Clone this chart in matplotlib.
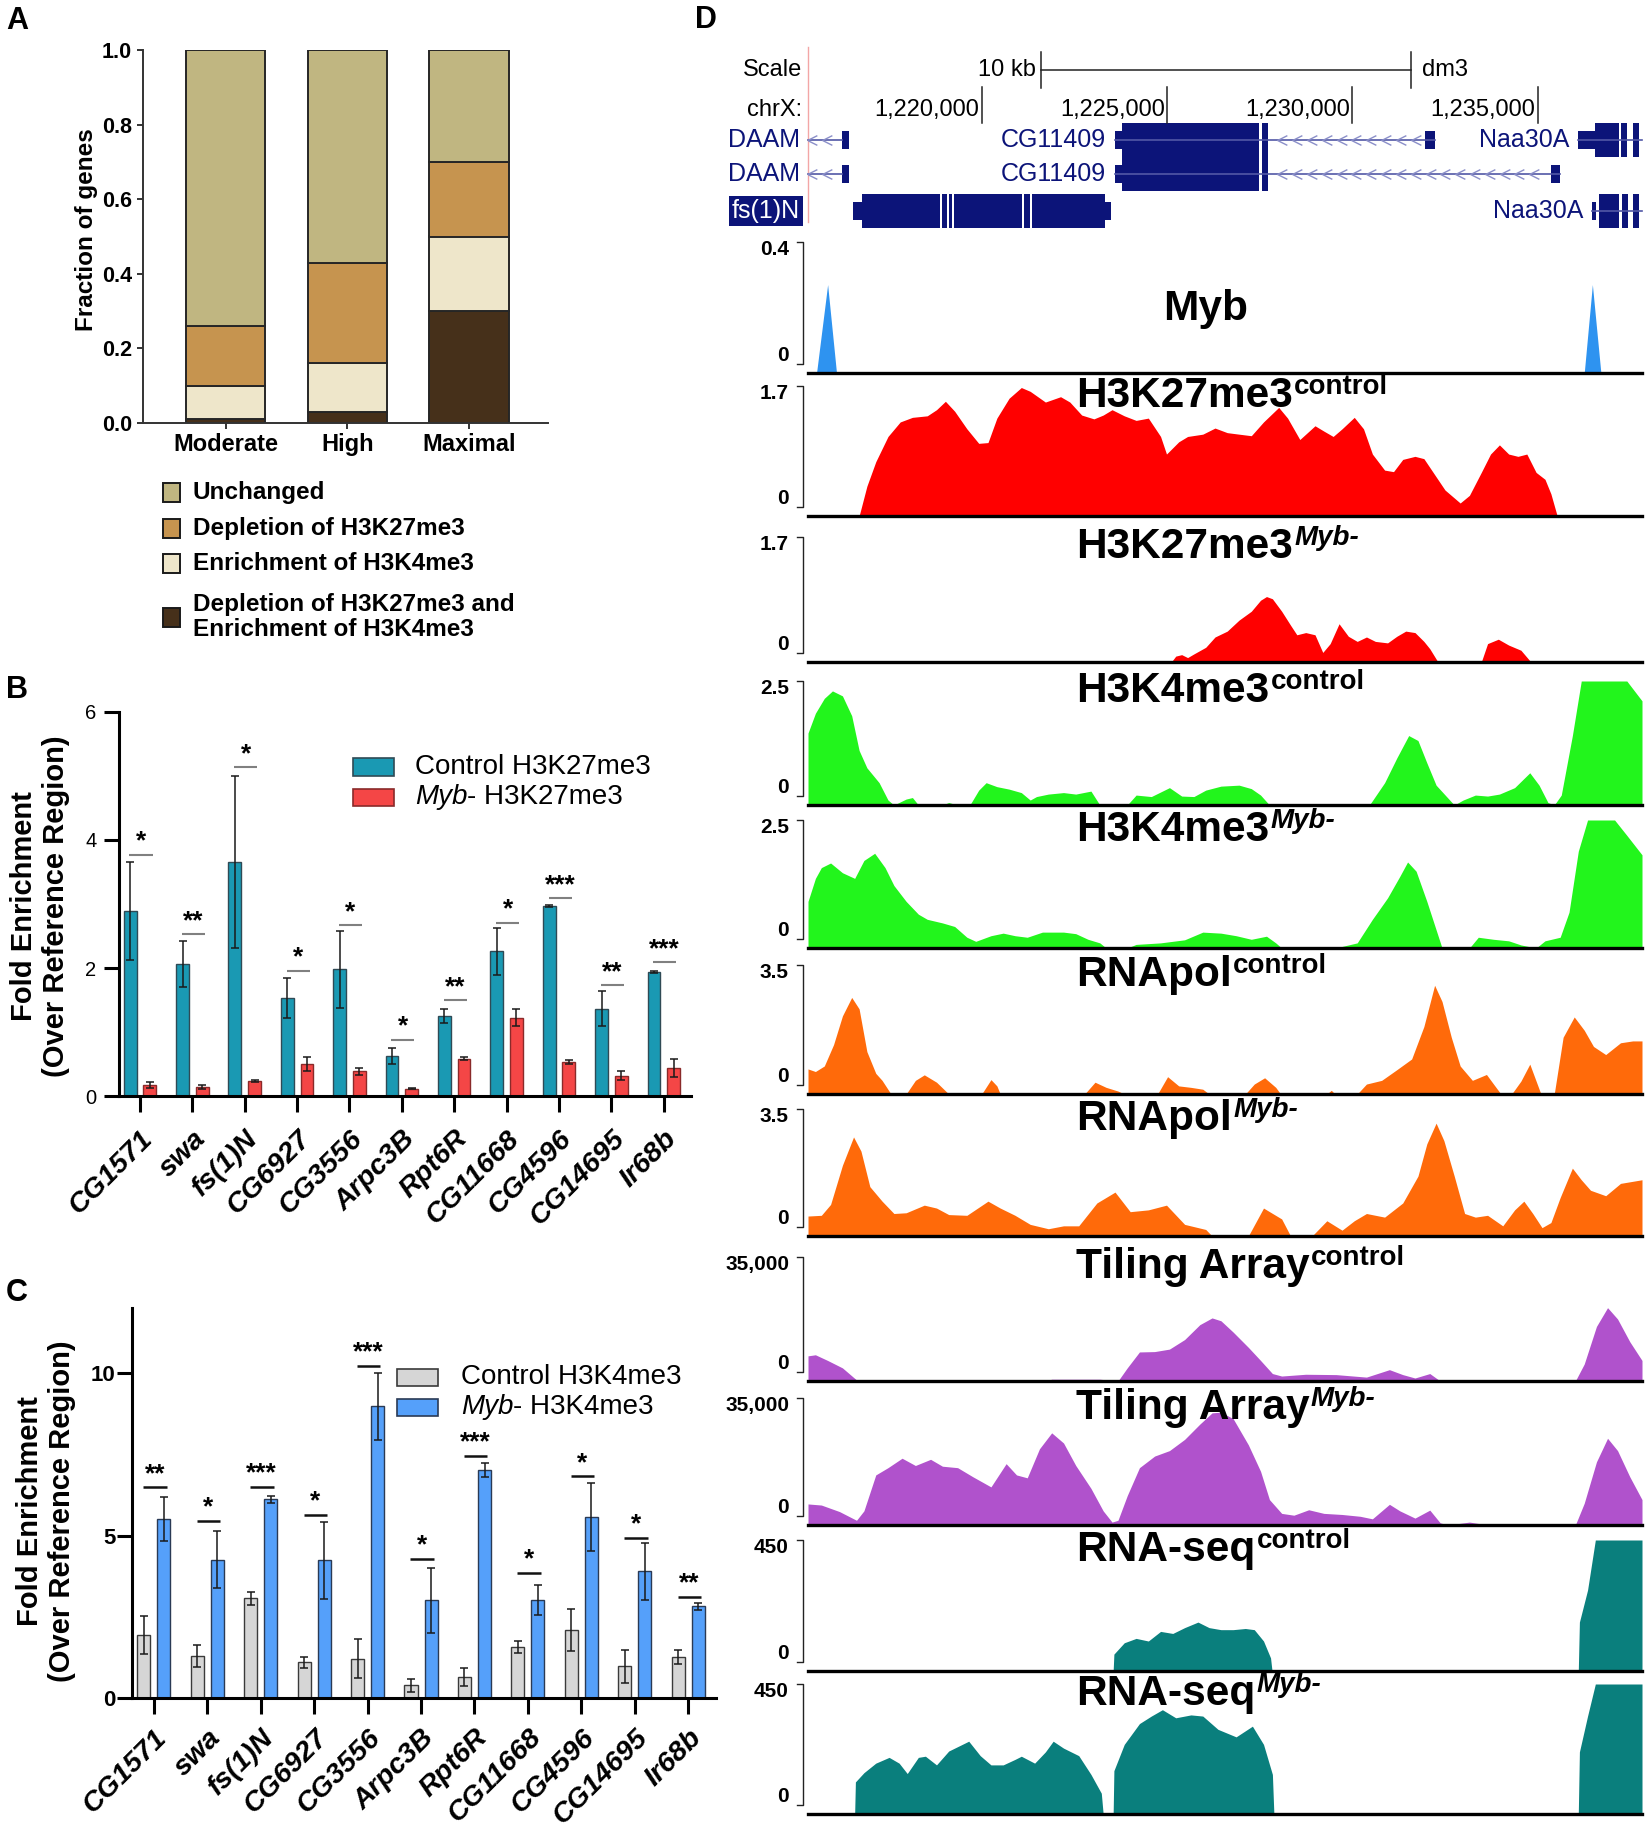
import numpy as np
import matplotlib
matplotlib.use('Agg')
import matplotlib.pyplot as plt
from matplotlib.patches import Rectangle
from matplotlib.lines import Line2D
from matplotlib.path import Path

# ---------------- panel A ----------------
groups_a = ['Moderate', 'High', 'Maximal']
unchanged_a = [0.74, 0.57, 0.30]
depletion_a = [0.16, 0.27, 0.20]
enrichment_a = [0.09, 0.13, 0.20]
both_a = [0.01, 0.03, 0.30]
legend_a = ['Unchanged', 'Depletion of H3K27me3', 'Enrichment of H3K4me3',
            'Depletion of H3K27me3 and\nEnrichment of H3K4me3']

# ---------------- panels B, C ----------------
genes = ['CG1571', 'swa', 'fs(1)N', 'CG6927', 'CG3556', 'Arpc3B', 'Rpt6R',
         'CG11668', 'CG4596', 'CG14695', 'Ir68b']

b_ctrl = [2.89, 2.06, 3.65, 1.54, 1.98, 0.63, 1.25, 2.26, 2.97, 1.37, 1.94]
b_ctrl_err = [0.76, 0.36, 1.34, 0.31, 0.60, 0.13, 0.11, 0.36, 0.01, 0.27, 0.02]
b_myb = [0.18, 0.15, 0.24, 0.51, 0.39, 0.12, 0.59, 1.23, 0.54, 0.32, 0.44]
b_myb_err = [0.05, 0.03, 0.02, 0.11, 0.06, 0.01, 0.02, 0.14, 0.03, 0.07, 0.14]
b_sig_y = [3.77, 2.53, 5.13, 1.96, 2.67, 0.88, 1.50, 2.71, 3.09, 1.73, 2.09]
b_sig = ['*', '**', '*', '*', '*', '*', '**', '*', '***', '**', '***']

c_ctrl = [1.93, 1.29, 3.07, 1.10, 1.21, 0.39, 0.64, 1.57, 2.09, 0.97, 1.27]
c_ctrl_err = [0.58, 0.34, 0.20, 0.17, 0.60, 0.19, 0.28, 0.17, 0.65, 0.51, 0.22]
c_myb = [5.52, 4.26, 6.11, 4.24, 8.97, 3.01, 7.02, 3.01, 5.58, 3.90, 2.82]
c_myb_err = [0.68, 0.88, 0.12, 1.19, 1.03, 1.00, 0.22, 0.47, 1.05, 0.87, 0.11]
c_sig_y = [6.48, 5.45, 6.50, 5.64, 10.23, 4.29, 7.46, 3.85, 6.82, 4.93, 3.11]
c_sig = ['**', '*', '***', '*', '***', '*', '***', '*', '*', '*', '**']

# ---------------- panel D (genome browser, positions in kb on chrX) ----------------
XMIN, XMAX = 1215.30, 1237.82
coord_ticks = [1220, 1225, 1230, 1235]
scale_bar = [1221.59, 1231.59]

myb_pos = [1215.53, 1215.83, 1216.07, 1236.26, 1236.48, 1236.71]
myb_val = [0, 0.27, 0, 0, 0.27, 0]

k27_ctrl_pos = [1216.68, 1216.89, 1217.13, 1217.46, 1217.79, 1218.12, 1218.52, 1218.77, 1219.01, 1219.26,
                1219.59, 1219.91, 1220.16, 1220.40, 1220.73, 1221.06, 1221.30, 1221.71, 1222.12, 1222.37,
                1222.69, 1223.02, 1223.27, 1223.51, 1223.84, 1224.16, 1224.49, 1224.82, 1224.98, 1225.31,
                1225.55, 1225.96, 1226.29, 1226.62, 1226.94, 1227.27, 1227.60, 1228.01, 1228.25, 1228.58,
                1228.99, 1229.23, 1229.48, 1229.72, 1230.05, 1230.30, 1230.54, 1230.87, 1231.11, 1231.36,
                1231.69, 1231.93, 1232.18, 1232.50, 1232.91, 1233.16, 1233.48, 1233.73, 1233.97, 1234.22,
                1234.47, 1234.71, 1234.96, 1235.20, 1235.36, 1235.53]
k27_ctrl_val = [0, 0.39, 0.71, 1.04, 1.23, 1.29, 1.31, 1.39, 1.50, 1.37,
                1.14, 0.95, 0.96, 1.28, 1.54, 1.68, 1.63, 1.49, 1.56, 1.49,
                1.32, 1.27, 1.32, 1.39, 1.31, 1.25, 1.28, 1.04, 0.81, 0.97,
                1.04, 1.07, 1.15, 1.09, 1.07, 1.05, 1.23, 1.42, 1.28, 1.00,
                1.18, 1.11, 1.04, 1.14, 1.29, 1.14, 0.81, 0.60, 0.58, 0.74,
                0.78, 0.75, 0.57, 0.34, 0.17, 0.27, 0.57, 0.81, 0.93, 0.81,
                0.78, 0.81, 0.57, 0.48, 0.29, 0]

k27_myb_pos = [1225.11, 1225.23, 1225.39, 1225.55, 1225.72, 1226.04, 1226.29, 1226.62, 1226.94, 1227.27,
               1227.52, 1227.68, 1227.84, 1228.09, 1228.33, 1228.50, 1228.74, 1228.99, 1229.20, 1229.40,
               1229.64, 1229.89, 1230.13, 1230.38, 1230.62, 1230.95, 1231.20, 1231.44, 1231.69, 1231.93,
               1232.09, 1232.31, 1233.48, 1233.65, 1233.94, 1234.22, 1234.55, 1234.82]
k27_myb_val = [0, 0.08, 0.10, 0.06, 0.11, 0.20, 0.34, 0.42, 0.57, 0.69,
               0.84, 0.89, 0.86, 0.69, 0.50, 0.37, 0.40, 0.37, 0.13, 0.25,
               0.52, 0.35, 0.28, 0.34, 0.28, 0.26, 0.35, 0.42, 0.40, 0.28,
               0.18, 0, 0, 0.25, 0.31, 0.23, 0.16, 0]

k4_ctrl_pos = [1215.30, 1215.50, 1215.74, 1215.96, 1216.23, 1216.48, 1216.68, 1216.89, 1217.22, 1217.46,
               1217.62, 1217.95, 1218.12, 1218.28, 1218.93, 1219.10, 1219.34, 1219.67, 1219.91, 1220.11,
               1220.40, 1220.73, 1221.06, 1221.30, 1221.47, 1221.79, 1222.20, 1222.53, 1222.94, 1223.18,
               1223.92, 1224.16, 1224.57, 1225.06, 1225.39, 1225.72, 1226.04, 1226.45, 1226.94, 1227.27,
               1227.52, 1227.76, 1230.46, 1230.87, 1231.20, 1231.52, 1231.77, 1232.01, 1232.26, 1232.75,
               1232.99, 1233.32, 1233.65, 1233.97, 1234.38, 1234.79, 1235.04, 1235.28, 1235.45, 1235.64,
               1235.94, 1236.18, 1237.41, 1237.82]
k4_ctrl_val = [1.45, 1.85, 2.15, 2.30, 2.20, 1.80, 1.10, 0.75, 0.45, 0.10,
               0, 0.12, 0.15, 0, 0, 0.05, 0, 0, 0.30, 0.45,
               0.37, 0.32, 0.25, 0.10, 0.17, 0.22, 0.25, 0.22, 0.28, 0,
               0, 0.20, 0.17, 0.35, 0.18, 0.17, 0.30, 0.38, 0.40, 0.33,
               0.20, 0, 0, 0.45, 0.95, 1.40, 1.30, 0.85, 0.40, 0,
               0.10, 0.20, 0.18, 0.22, 0.35, 0.65, 0.40, 0.05, 0, 0.20,
               1.40, 2.50, 2.50, 2.10]

k4_myb_pos = [1215.30, 1215.50, 1215.66, 1215.91, 1216.23, 1216.56, 1216.81, 1217.10, 1217.38, 1217.62,
              1217.95, 1218.28, 1218.52, 1218.93, 1219.26, 1219.59, 1219.83, 1220.24, 1220.57, 1220.89,
              1221.22, 1221.63, 1222.20, 1222.53, 1222.86, 1223.18, 1223.35, 1223.92, 1224.16, 1224.82,
              1225.47, 1225.96, 1226.45, 1226.86, 1227.27, 1227.68, 1227.93, 1228.09, 1229.40, 1229.72,
              1230.13, 1230.54, 1230.95, 1231.28, 1231.49, 1231.72, 1232.01, 1232.42, 1233.16, 1233.40,
              1233.81, 1234.22, 1234.55, 1234.96, 1235.20, 1235.61, 1235.85, 1236.10, 1236.35, 1237.08,
              1237.41, 1237.82]
k4_myb_val = [0.91, 1.36, 1.57, 1.66, 1.47, 1.36, 1.71, 1.85, 1.57, 1.22,
              0.91, 0.66, 0.56, 0.49, 0.42, 0.21, 0.13, 0.24, 0.29, 0.24,
              0.21, 0.31, 0.31, 0.28, 0.17, 0.10, 0, 0, 0.07, 0.10,
              0.16, 0.31, 0.29, 0.24, 0.17, 0.23, 0.10, 0, 0, 0.03,
              0.10, 0.56, 0.98, 1.40, 1.68, 1.50, 0.91, 0, 0, 0.21,
              0.17, 0.14, 0.06, 0, 0.14, 0.21, 0.70, 1.89, 2.50, 2.50,
              2.20, 1.82]

pol_ctrl_pos = [1215.30, 1215.50, 1215.74, 1215.99, 1216.23, 1216.48, 1216.68, 1216.89, 1217.13, 1217.30,
                1217.54, 1217.95, 1218.20, 1218.44, 1218.77, 1219.10, 1219.99, 1220.24, 1220.40, 1220.49,
                1222.77, 1223.05, 1223.35, 1223.67, 1223.84, 1224.74, 1225.01, 1225.31, 1225.64, 1225.96,
                1226.13, 1227.11, 1227.35, 1227.63, 1227.93, 1228.06, 1229.31, 1229.43, 1229.53, 1230.13,
                1230.38, 1230.79, 1231.20, 1231.60, 1231.93, 1232.22, 1232.42, 1232.67, 1232.91, 1233.24,
                1233.62, 1233.81, 1234.01, 1234.30, 1234.55, 1234.79, 1235.09, 1235.45, 1235.69, 1235.99,
                1236.26, 1236.51, 1236.84, 1237.24, 1237.57, 1237.82]
pol_ctrl_val = [0.68, 0.61, 0.76, 1.34, 2.12, 2.62, 2.31, 1.15, 0.56, 0.37,
                0, 0, 0.37, 0.52, 0.32, 0, 0, 0.39, 0.22, 0,
                0, 0.32, 0.18, 0.08, 0, 0, 0.47, 0.22, 0.18, 0.13,
                0, 0, 0.27, 0.44, 0.18, 0, 0, 0.10, 0, 0,
                0.27, 0.37, 0.66, 0.95, 1.83, 2.95, 2.51, 1.54, 0.76, 0.37,
                0.53, 0.27, 0, 0, 0.35, 0.81, 0, 0, 1.54, 2.09,
                1.73, 1.29, 1.07, 1.39, 1.44, 1.44]

pol_myb_pos = [1215.30, 1215.66, 1215.91, 1216.23, 1216.53, 1216.73, 1216.97, 1217.30, 1217.62, 1217.95,
               1218.44, 1218.77, 1219.10, 1219.59, 1220.16, 1220.49, 1220.89, 1221.30, 1221.79, 1222.20,
               1222.61, 1223.10, 1223.59, 1224.00, 1224.49, 1224.98, 1225.47, 1226.04, 1226.21, 1227.19,
               1227.60, 1228.09, 1228.33, 1228.91, 1229.31, 1229.72, 1230.05, 1230.38, 1230.87, 1231.36,
               1231.77, 1232.01, 1232.26, 1232.47, 1232.75, 1233.03, 1233.32, 1233.65, 1234.06, 1234.38,
               1234.63, 1234.87, 1235.12, 1235.36, 1235.61, 1235.94, 1236.18, 1236.43, 1236.84, 1237.24,
               1237.82]
pol_myb_val = [0.55, 0.57, 0.87, 1.95, 2.73, 2.34, 1.36, 0.96, 0.62, 0.64,
               0.85, 0.77, 0.59, 0.57, 0.96, 0.77, 0.57, 0.32, 0.20, 0.28,
               0.28, 0.91, 1.21, 0.67, 0.72, 0.85, 0.32, 0.18, 0, 0,
               0.77, 0.47, 0, 0, 0.42, 0.16, 0.42, 0.62, 0.52, 0.91,
               1.65, 2.54, 3.11, 2.63, 1.65, 0.62, 0.52, 0.57, 0.28, 0.72,
               0.96, 0.62, 0.23, 0.37, 1.06, 1.87, 1.55, 1.26, 1.11, 1.45,
               1.55]

tile_ctrl_pos = [1215.30, 1215.50, 1215.83, 1216.23, 1216.61, 1216.64, 1221.71, 1221.88, 1223.18, 1223.67,
                 1223.92, 1224.25, 1224.66, 1225.06, 1225.47, 1225.88, 1226.21, 1226.45, 1226.78, 1227.19,
                 1227.52, 1227.84, 1228.09, 1228.74, 1229.56, 1230.38, 1231.00, 1231.36, 1231.69, 1232.09,
                 1232.37, 1236.02, 1236.26, 1236.59, 1236.89, 1237.16, 1237.49, 1237.82]
tile_ctrl_val = [7100, 7400, 5800, 3700, 300, 0, 0, 500, 500, 0,
                 3700, 8200, 8300, 9000, 11700, 15900, 17800, 17000, 13800, 9500,
                 5800, 2100, 1400, 1900, 1800, 1100, 3200, 1800, 850, 2100,
                 0, 0, 4800, 15400, 20700, 17500, 11100, 5800]

tile_myb_pos = [1215.30, 1215.66, 1216.15, 1216.61, 1216.81, 1217.13, 1217.46, 1217.84, 1218.20, 1218.61,
                1218.93, 1219.34, 1219.75, 1220.24, 1220.65, 1220.93, 1221.22, 1221.55, 1221.88, 1222.20,
                1222.53, 1222.94, 1223.27, 1223.51, 1223.67, 1223.92, 1224.25, 1224.66, 1225.06, 1225.47,
                1225.88, 1226.21, 1226.45, 1226.78, 1227.19, 1227.52, 1227.76, 1228.09, 1228.42, 1228.82,
                1229.23, 1229.72, 1230.21, 1230.54, 1231.00, 1231.28, 1231.69, 1232.09, 1232.37, 1232.58,
                1233.16, 1233.48, 1235.28, 1236.02, 1236.26, 1236.59, 1236.89, 1237.16, 1237.49, 1237.82]
tile_myb_val = [5800, 5500, 3700, 1300, 3900, 13800, 15800, 18400, 16400, 18100,
                16200, 15800, 13300, 10500, 16900, 13800, 13000, 21000, 25400, 22600,
                16400, 10100, 3900, 800, 1300, 8100, 15800, 19000, 20500, 23600,
                27800, 30900, 31100, 29300, 22100, 14800, 7000, 3200, 2700, 4200,
                3200, 2900, 2400, 1700, 5700, 3900, 1900, 4100, 600, 0,
                800, 300, 300, 0, 6000, 17400, 23900, 20500, 13300, 7000]

seq_ctrl_pos = [1223.54, 1223.56, 1223.84, 1224.16, 1224.49, 1224.82, 1225.15, 1225.47, 1225.83, 1226.13,
                1226.45, 1226.78, 1227.11, 1227.35, 1227.60, 1227.79, 1227.83, 1236.10, 1236.13, 1236.35,
                1236.56, 1237.82]
seq_ctrl_val = [0, 58, 97, 112, 103, 136, 129, 149, 168, 149,
                142, 142, 146, 142, 103, 45, 0, 0, 168, 278,
                450, 450]

seq_myb_pos = [1216.56, 1216.58, 1216.81, 1217.13, 1217.49, 1217.76, 1217.98, 1218.28, 1218.47, 1218.77,
               1219.10, 1219.64, 1219.95, 1220.24, 1220.57, 1220.89, 1221.06, 1221.42, 1221.71, 1221.92,
               1222.20, 1222.61, 1222.94, 1223.22, 1223.27, 1223.54, 1223.56, 1223.84, 1224.25, 1224.57,
               1224.87, 1225.23, 1225.64, 1225.96, 1226.37, 1226.86, 1227.30, 1227.60, 1227.84, 1227.88,
               1236.10, 1236.13, 1236.35, 1236.56, 1237.82]
seq_myb_val = [0, 111, 143, 176, 196, 176, 140, 196, 200, 170,
               218, 252, 202, 170, 170, 189, 200, 176, 215, 252,
               228, 202, 137, 72, 0, 0, 150, 241, 313, 339,
               361, 333, 343, 339, 293, 267, 304, 241, 137, 0,
               0, 215, 339, 450, 450]

track_names = ['Myb', 'H3K27me3', 'H3K27me3', 'H3K4me3', 'H3K4me3', 'RNApol', 'RNApol',
               'Tiling Array', 'Tiling Array', 'RNA-seq', 'RNA-seq']
track_sup = ['', 'control', 'Myb-', 'control', 'Myb-', 'control', 'Myb-',
             'control', 'Myb-', 'control', 'Myb-']
track_max = [0.4, 1.7, 1.7, 2.5, 2.5, 3.5, 3.5, 35000, 35000, 450, 450]
track_max_label = ['0.4', '1.7', '1.7', '2.5', '2.5', '3.5', '3.5', '35,000', '35,000', '450', '450']
track_pos = [myb_pos, k27_ctrl_pos, k27_myb_pos, k4_ctrl_pos, k4_myb_pos, pol_ctrl_pos, pol_myb_pos,
             tile_ctrl_pos, tile_myb_pos, seq_ctrl_pos, seq_myb_pos]
track_val = [myb_val, k27_ctrl_val, k27_myb_val, k4_ctrl_val, k4_myb_val, pol_ctrl_val, pol_myb_val,
             tile_ctrl_val, tile_myb_val, seq_ctrl_val, seq_myb_val]
track_col = ['#2E93F0', '#FF0000', '#FF0000', '#22F51C', '#22F51C', '#FF6A0A', '#FF6A0A',
             '#B052CC', '#B052CC', '#0A7F7D', '#0A7F7D']

# gene models: (row, name, exons [(start, end, coding)], drawn line span)
daam_exons = [(1216.23, 1216.40, False)]
cg11409_a = [(1223.59, 1223.79, False), (1223.79, 1227.47, True), (1227.55, 1227.73, True),
             (1231.96, 1232.22, False)]
cg11409_b = [(1223.59, 1223.79, False), (1223.79, 1227.47, True), (1227.55, 1227.73, True),
             (1235.36, 1235.61, False)]
naa30a_a = [(1236.10, 1236.56, False), (1236.56, 1237.21, True), (1237.26, 1237.41, True),
            (1237.57, 1237.74, True)]
fs1n_exons = [(1216.52, 1216.76, False), (1216.76, 1218.87, True), (1218.92, 1219.06, True),
              (1219.11, 1219.20, True), (1219.25, 1221.09, True), (1221.14, 1221.30, True),
              (1221.35, 1223.32, True), (1223.32, 1223.48, False)]
naa30a_b = [(1236.48, 1236.59, False), (1236.67, 1237.21, True), (1237.28, 1237.44, True),
            (1237.57, 1237.74, True)]
gene_models = [
    (0, 'DAAM', daam_exons, (XMIN, 1216.23)),
    (0, 'CG11409', cg11409_a, (1223.59, 1232.22)),
    (0, 'Naa30A', naa30a_a, (1236.10, XMAX)),
    (1, 'DAAM', daam_exons, (XMIN, 1216.23)),
    (1, 'CG11409', cg11409_b, (1223.59, 1235.61)),
    (2, 'fs(1)N', fs1n_exons, None),
    (2, 'Naa30A', naa30a_b, (1236.48, XMAX)),
]

# ---------------------------------------------------------------
W, H = 1650, 1830
plt.rcParams['font.family'] = ['Liberation Sans', 'DejaVu Sans']
fig = plt.figure(figsize=(W / 100, H / 100), dpi=100)


def rect(l, t, r, b):
    return [l / W, 1 - b / H, (r - l) / W, (b - t) / H]


def ftext(x, y, s, **kw):
    return fig.text(x / W, 1 - y / H, s, **kw)


def fbox(x, y, w, h, **kw):
    fig.add_artist(Rectangle((x / W, 1 - (y + h) / H), w / W, h / H,
                             transform=fig.transFigure, **kw))


def fline(xs, ys, **kw):
    fig.add_artist(Line2D([x / W for x in xs], [1 - y / H for y in ys],
                          transform=fig.transFigure, **kw))


# panel letters
for lab, x, y in [('A', 17, 21), ('B', 17, 690), ('C', 17, 1293), ('D', 706, 20)]:
    ftext(x, y, lab, ha='center', va='center', fontsize=22, fontweight='bold')

# ---------------- A ----------------
cols_a = ['#C0B681', '#C6944F', '#EEE6CA', '#46301A']
axA = fig.add_axes(rect(143, 50, 548, 423))
xa = np.arange(len(groups_a))
bottom = np.zeros(len(groups_a))
for vals, c in zip([both_a, enrichment_a, depletion_a, unchanged_a], cols_a[::-1]):
    axA.bar(xa, vals, 0.653, bottom=bottom, color=c, edgecolor='#262626', linewidth=1.4, zorder=2)
    bottom = bottom + np.array(vals)
axA.set_xlim(-0.68, 2.65)
axA.set_ylim(0, 1.0)
yt = np.linspace(0, 1, 6)
axA.set_yticks(yt)
axA.set_yticklabels(['%.1f' % v for v in yt], fontsize=15.5, fontweight='bold')
axA.set_xticks(xa)
axA.set_xticklabels(groups_a, fontsize=17, fontweight='bold')
axA.tick_params(axis='both', width=1.4, length=4.5, color='#333333')
axA.tick_params(axis='x', pad=3)
for s in ['top', 'right']:
    axA.spines[s].set_visible(False)
for s in ['left', 'bottom']:
    axA.spines[s].set_linewidth(1.4)
    axA.spines[s].set_color('#333333')
ftext(87, 230, 'Fraction of genes', rotation=90, ha='center', va='center',
      fontsize=17.5, fontweight='bold')
for lab, c, y in zip(legend_a, cols_a, [492, 528, 563, 617]):
    fbox(163, y - 9.5, 17, 19, facecolor=c, edgecolor='#1a1a1a', linewidth=1.4)
    ftext(193, y, lab, ha='left', va='center', fontsize=17.5, fontweight='bold', linespacing=1.15)


# ---------------- B and C ----------------
def fold_panel(box, ctrl, ctrl_err, myb, myb_err, sig_y, sig, ymax, yticks,
               colors, edges, ytick_kw, ypad, sig_color, sig_lw, xpad):
    ax = fig.add_axes(rect(*box))
    x = np.arange(len(genes))
    ax.bar(x - 0.1875, ctrl, 0.245, color=colors[0], edgecolor=edges[0], linewidth=1.0, zorder=2)
    ax.bar(x + 0.1875, myb, 0.245, color=colors[1], edgecolor=edges[1], linewidth=1.0, zorder=2)
    for off, v, e in [(-0.1875, ctrl, ctrl_err), (0.1875, myb, myb_err)]:
        ax.errorbar(x + off, v, yerr=e, fmt='none', ecolor='#1a1a1a', elinewidth=1.1,
                    capsize=3.2, capthick=1.1, zorder=3)
    for xi, yl, s in zip(x, sig_y, sig):
        ax.plot([xi - 0.2, xi + 0.24], [yl, yl], color=sig_color, lw=sig_lw,
                solid_capstyle='butt', zorder=3)
        ax.annotate(s, xy=(xi + 0.02, yl), xytext=(0, 9.5), textcoords='offset points',
                    ha='center', va='center', fontsize=19, fontweight='bold')
    ax.set_xlim(-0.41, 10.52)
    ax.set_ylim(0, ymax)
    ax.set_yticks(yticks)
    ax.set_yticklabels([str(t) for t in yticks], **ytick_kw)
    ax.set_xticks(x)
    ax.set_xticklabels(genes, rotation=45, ha='right', va='top', rotation_mode='anchor',
                       fontsize=20.5, fontweight='bold', fontstyle='italic')
    ax.tick_params(axis='y', width=2.2, length=11, pad=ypad)
    ax.tick_params(axis='x', width=2.2, length=11.5, pad=xpad)
    for s in ['top', 'right']:
        ax.spines[s].set_visible(False)
    for s in ['left', 'bottom']:
        ax.spines[s].set_linewidth(2.2)
    return ax


axB = fold_panel((118.5, 711.6, 691, 1096.4), b_ctrl, b_ctrl_err, b_myb, b_myb_err,
                 b_sig_y, b_sig, 6, [0, 2, 4, 6], ['#1A99B3', '#F44646'], ['#2F4A55', '#8A2A2A'],
                 dict(fontsize=14.5), 5, '#808080', 1.5, 9.5)
axC = fold_panel((132, 1308, 716, 1698), c_ctrl, c_ctrl_err, c_myb, c_myb_err,
                 c_sig_y, c_sig, 12, [0, 5, 10], ['#D6D6D6', '#55A0FA'], ['#3a3a3a', '#2a3a55'],
                 dict(fontsize=16, fontweight='bold'), 1, '#111111', 1.8, 7.5)
ftext(40, 906, 'Fold Enrichment\n(Over Reference Region)', rotation=90, ha='center',
      va='center', multialignment='center', fontsize=21, fontweight='bold', linespacing=1.15)
ftext(46, 1511, 'Fold Enrichment\n(Over Reference Region)', rotation=90, ha='center',
      va='center', multialignment='center', fontsize=21, fontweight='bold', linespacing=1.2)


def fold_legend(ax, x0, tx, rows, colors, edges, target):
    for y, c, e in zip(rows, colors, edges):
        fbox(x0, y - 8.5, 41, 17, facecolor=c, edgecolor=e, linewidth=1.2)
    ftext(tx, rows[0], 'Control ' + target, ha='left', va='center', fontsize=20)
    t = ftext(tx, rows[1], 'Myb', ha='left', va='center', fontsize=20, fontstyle='italic')
    ax.annotate('- ' + target, xy=(1, 0), xycoords=t, ha='left', va='bottom', fontsize=20)


fold_legend(axB, 353, 415, [767, 797], ['#1A99B3', '#F44646'], ['#2F4A55', '#8A2A2A'], 'H3K27me3')
fold_legend(axC, 397, 461, [1377, 1407], ['#D6D6D6', '#55A0FA'], ['#3a3a3a', '#2a3a55'], 'H3K4me3')

# ---------------- D ----------------
NAVY = '#0C1479'
INTRON = '#5258A6'
axG = fig.add_axes(rect(808, 40, 1642, 235))
axG.set_xlim(XMIN, XMAX)
axG.set_ylim(235, 40)
axG.axis('off')
axG.plot([XMIN, XMIN], [47, 222], color='#F3A6A6', lw=1, clip_on=False)

ftext(802, 70, 'Scale', ha='right', va='center', fontsize=17)
ftext(802, 110, 'chrX:', ha='right', va='center', fontsize=17)
axG.plot(scale_bar, [70, 70], color='#222222', lw=1.1)
for sx in scale_bar:
    axG.plot([sx, sx], [52, 88], color='#222222', lw=1.1)
axG.text(scale_bar[0] - 0.13, 70, '10 kb', ha='right', va='center', fontsize=17)
axG.text(scale_bar[1] + 0.3, 70, 'dm3', ha='left', va='center', fontsize=17)
for c in coord_ticks:
    axG.plot([c, c], [87, 123], color='#222222', lw=1.1)
    axG.text(c - 0.07, 110, '{:,}'.format(c * 1000), ha='right', va='center', fontsize=17)

ROW_Y = [140, 174, 211]
chev = Path([(1, 1), (-1, 0), (1, -1)], [Path.MOVETO, Path.LINETO, Path.LINETO])
for row, name, exons, span in gene_models:
    y = ROW_Y[row]
    if span is not None:
        axG.plot(span, [y, y], color=INTRON, lw=1.2, clip_on=False)
        xs = [v for v in np.arange(span[0] + 0.12, span[1], 0.4)
              if not any(s - 0.1 <= v <= e + 0.1 for s, e, _ in exons)]
        axG.plot(xs, [y] * len(xs), linestyle='none', marker=chev, ms=7,
                 mec='#8A8EC8', mfc='none', mew=1.0)
    for s, e, coding in exons:
        hh = 17 if coding else 9
        axG.add_patch(Rectangle((s, y - hh), e - s, 2 * hh, facecolor=NAVY, edgecolor='none'))
    if name == 'DAAM':
        axG.text(XMIN - 0.22, y, name, ha='right', va='center', color=NAVY, fontsize=18, clip_on=False)
    elif name == 'fs(1)N':
        axG.text(XMIN - 0.22, y, name, ha='right', va='center', color='white', fontsize=18,
                 clip_on=False, bbox=dict(facecolor=NAVY, edgecolor='none', pad=2))
    else:
        axG.text(exons[0][0] - 0.25, y, name, ha='right', va='center', color=NAVY, fontsize=18)

TRACK_TOP = [242, 386, 537, 681, 820, 965, 1109, 1257, 1398, 1540, 1684]
TRACK_BASE = [373, 516, 662, 805, 948, 1094, 1236, 1381, 1525, 1671, 1814]
for i in range(len(track_names)):
    top, base = TRACK_TOP[i], TRACK_BASE[i]
    ax = fig.add_axes(rect(808, top, 1642, base))
    ax.set_facecolor('none')
    ax.fill_between(track_pos[i], track_val[i], 0, color=track_col[i], lw=0)
    ax.set_xlim(XMIN, XMAX)
    ax.set_ylim(0, track_max[i])
    ax.set_xticks([])
    ax.set_yticks([])
    for s in ['top', 'right', 'left']:
        ax.spines[s].set_visible(False)
    ax.spines['bottom'].set_linewidth(2.4)
    zero_y = base - 9
    fline([797, 803, 803, 797], [top, top, zero_y, zero_y], color='#222222', lw=1.0)
    ftext(789, top - 2, track_max_label[i], ha='right', va='top', fontsize=15, fontweight='bold')
    ftext(789, zero_y - 3, '0', ha='right', va='baseline', fontsize=15, fontweight='bold')
    if track_sup[i] == '':
        ftext(1206, 320, track_names[i], ha='center', va='baseline', fontsize=30.5, fontweight='bold')
    else:
        t = ftext(1076, top + 21, track_names[i], ha='left', va='baseline',
                  fontsize=30.5, fontweight='bold')
        style = 'italic' if track_sup[i].startswith('Myb') else 'normal'
        ax.annotate(track_sup[i], xy=(1, 0), xycoords=t, xytext=(1, 11.5),
                    textcoords='offset points', ha='left', va='bottom',
                    fontsize=20, fontweight='bold', fontstyle=style)

fig.savefig('out.png', dpi=100)
